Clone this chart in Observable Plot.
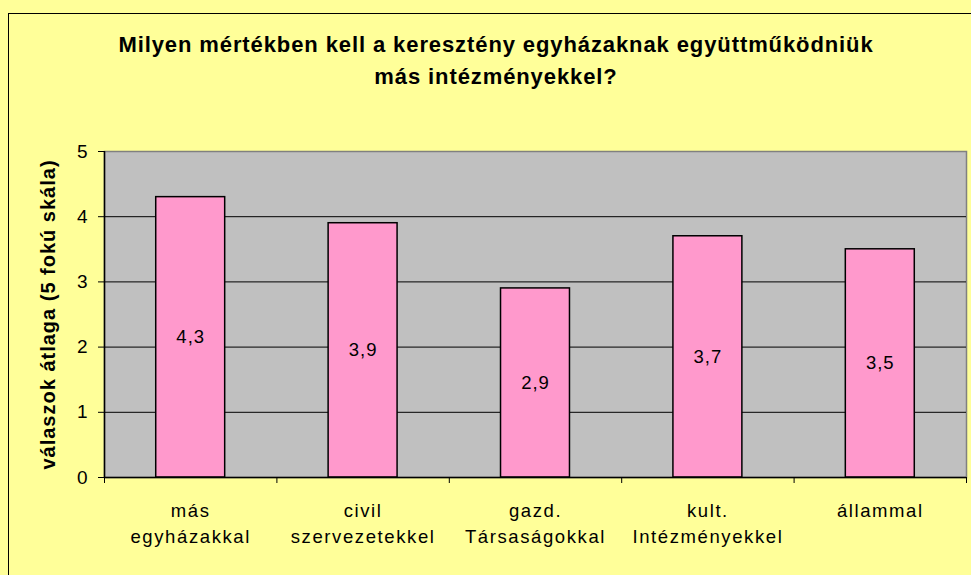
<!DOCTYPE html>
<html>
<head>
<meta charset="utf-8">
<script src="https://cdn.jsdelivr.net/npm/d3@7"></script>
<script src="https://cdn.jsdelivr.net/npm/@observablehq/plot@0.6"></script>
<style>
  html, body { margin: 0; padding: 0; width: 971px; height: 575px; overflow: hidden; background: #FFFF99; }
  #frame { position: absolute; left: 8px; top: 13px; width: 1000px; height: 600px; border: 1.5px solid #000; box-sizing: border-box; }
  #title { position: absolute; left: 8px; width: 976px; top: 29px; text-align: center; font-family: "Liberation Sans", Arial, sans-serif; font-weight: bold; font-size: 22px; letter-spacing: 0.9px; line-height: 32px; color: #000; }
  #chart { position: absolute; left: 0; top: 0; }
  #chart svg text { letter-spacing: 1px; }
  #chart svg g[aria-label="x-axis tick label"] text { letter-spacing: 1.6px; }
</style>
</head>
<body>
<div id="frame"></div>
<div id="title">Milyen mértékben kell a keresztény egyházaknak együttműködniük<br>más intézményekkel?</div>
<div id="chart"></div>
<script>
const categories = ["más\negyházakkal", "civil\nszervezetekkel", "gazd.\nTársaságokkal", "kult.\nIntézményekkel", "állammal"];
const values = [4.3, 3.9, 2.9, 3.7, 3.5];
const yTicks = [0, 1, 2, 3, 4, 5];
const yLabel = "válaszok átlaga (5 fokú skála)";

const data = categories.map((c, i) => ({i, c, v: values[i]}));
const fmt = v => String(v).replace(".", ",");

const chart = Plot.plot({
  width: 971,
  height: 575,
  marginTop: 151,
  marginLeft: 104,
  marginRight: 5,
  marginBottom: 98,
  style: {background: "transparent", fontFamily: "'Liberation Sans', Arial, sans-serif", color: "#000"},
  x: {domain: [0, categories.length]},
  y: {domain: [0, 5]},
  marks: [
    Plot.frame({fill: "#C0C0C0", stroke: "#808080", strokeWidth: 1.5}),
    Plot.ruleY(yTicks.filter(t => t > 0 && t < 5), {y: d => d, stroke: "#000", strokeWidth: 1}),
    Plot.rect(data, {x1: d => d.i + 0.3, x2: d => d.i + 0.7, y1: 0, y2: "v", fill: "#FF99CC", stroke: "#000", strokeWidth: 1.5}),
    Plot.text(data, {x: d => d.i + 0.5, y: d => d.v / 2, text: d => fmt(d.v), fontSize: 18.5, fill: "#000"}),
    Plot.ruleY([0], {stroke: "#000", strokeWidth: 1.5}),
    Plot.ruleX([0], {stroke: "#000", strokeWidth: 1.5}),
    Plot.axisY({ticks: yTicks, tickSize: 6, tickPadding: 10, fontSize: 19, label: null, tickFormat: d => String(d)}),
    Plot.axisX({ticks: d3.range(0, categories.length + 1), tickSize: 6, tickFormat: () => "", label: null}),
    Plot.axisX({ticks: categories.map((c, i) => i + 0.5), tickSize: 0, tickPadding: 20, fontSize: 18.5, lineHeight: 1.45, tickFormat: d => categories[Math.floor(d)], label: null}),
    Plot.text([yLabel], {frameAnchor: "left", text: d => d, rotate: -90, textAnchor: "middle", dx: -56, fontSize: 20, fontWeight: "bold", fill: "#000"})
  ]
});
document.getElementById("chart").appendChild(chart);
</script>
</body>
</html>
